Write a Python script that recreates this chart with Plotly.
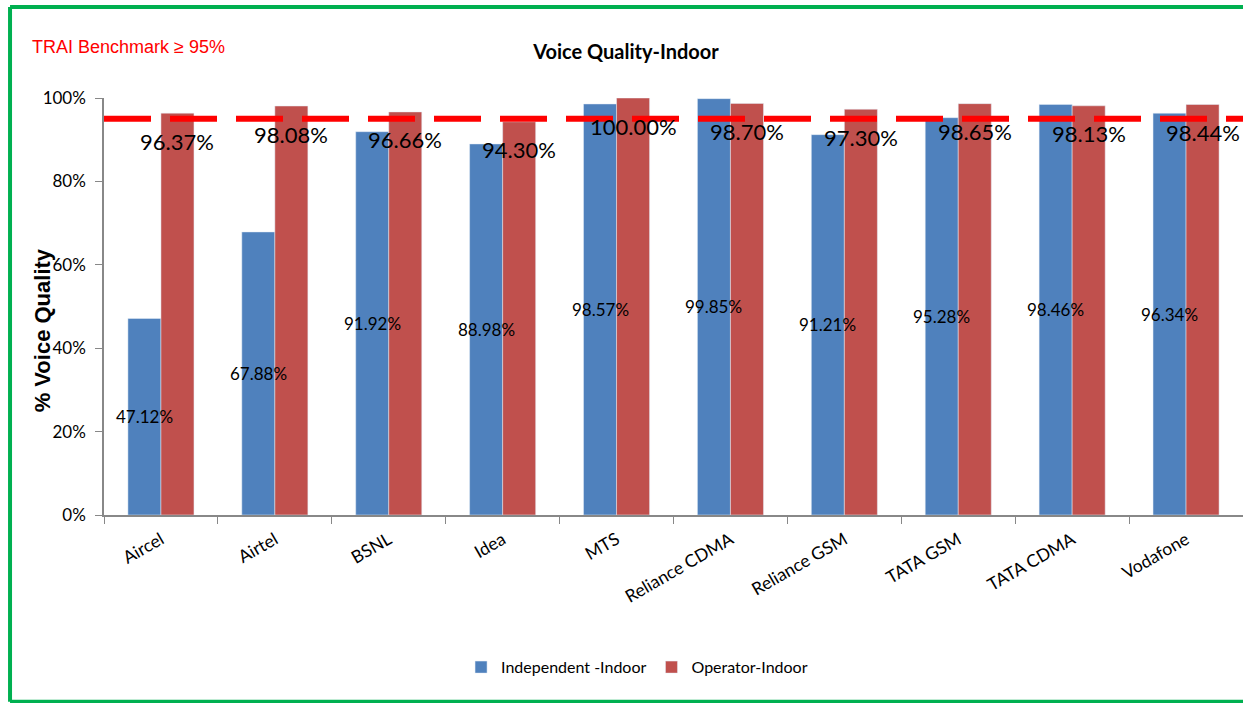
import plotly.graph_objects as go

# data
operators = ['Aircel', 'Airtel', 'BSNL', 'Idea', 'MTS', 'Reliance CDMA',
             'Reliance GSM', 'TATA GSM', 'TATA CDMA', 'Vodafone']
independent = [47.12, 67.88, 91.92, 88.98, 98.57, 99.85, 91.21, 95.28, 98.46, 96.34]
operator_vals = [96.37, 98.08, 96.66, 94.30, 100.00, 98.70, 97.30, 98.65, 98.13, 98.44]
benchmark = 95

BLUE = '#4F81BD'
RED = '#C0504D'
FONT = 'Lato'

fig = go.Figure()

fig.add_trace(go.Bar(
    x=operators, y=[v / 100 for v in independent], name='Independent -Indoor',
    marker=dict(color=BLUE),
))
fig.add_trace(go.Bar(
    x=operators, y=[v / 100 for v in operator_vals], name='Operator-Indoor',
    marker=dict(color=RED),
))

# independent labels: centred in the blue bars
for op, v in zip(operators, independent):
    fig.add_annotation(x=op, y=v / 200, text='%.2f%%' % v, showarrow=False,
                       xshift=-16.5, yanchor='middle',
                       font=dict(family=FONT, size=17, color='black'))

# operator labels: large text just below the top of each red bar
for op, v in zip(operators, operator_vals):
    fig.add_annotation(x=op, y=v / 100, text='%.2f%%' % v, showarrow=False,
                       xshift=16.5, yshift=-28, yanchor='middle',
                       font=dict(family=FONT, size=22, color='black'))

# benchmark line
fig.add_shape(type='line', xref='paper', yref='y', x0=0, x1=1,
              y0=benchmark / 100, y1=benchmark / 100,
              line=dict(color='#FF0000', width=6, dash='47px,19px'))

# green frame: left, top and bottom sides (right side runs off the picture)
frame = dict(color='#00B050', width=4)
fig.add_shape(type='line', xref='paper', yref='paper',
              x0=-0.0825, x1=-0.0825, y0=-0.448, y1=1.218, line=frame)
fig.add_shape(type='line', xref='paper', yref='paper',
              x0=-0.0825, x1=1.0, y0=1.218, y1=1.218, line=frame)
fig.add_shape(type='line', xref='paper', yref='paper',
              x0=-0.0825, x1=1.0, y0=-0.448, y1=-0.448, line=frame)

fig.add_annotation(xref='paper', yref='paper', x=-0.0649, y=1.122,
                   xanchor='left', yanchor='middle', showarrow=False,
                   text='TRAI Benchmark ≥ 95%',
                   font=dict(family='Liberation Sans', size=18, color='#FF0000'))
fig.add_annotation(xref='paper', yref='paper', x=-0.054, y=0.444,
                   xanchor='center', yanchor='middle',
                   textangle=-90, showarrow=False, text='<b>% Voice Quality</b>',
                   font=dict(family='Liberation Sans', size=22, color='black'))

fig.update_layout(
    width=1243, height=703,
    margin=dict(l=104, r=0, t=98, b=188),
    paper_bgcolor='white', plot_bgcolor='white',
    barmode='group', bargap=0.42, bargroupgap=0,
    title=dict(text='<b>Voice Quality-Indoor</b>', x=0.5036, y=0.926,
               xanchor='center', yanchor='middle',
               font=dict(family=FONT, size=20, color='black')),
    font=dict(family=FONT, size=16, color='black'),
    legend=dict(orientation='h', x=0.468, y=-0.365, xanchor='center',
                yanchor='middle', font=dict(family=FONT, size=16)),
    showlegend=True,
)
fig.update_xaxes(showline=True, linecolor='#888888', linewidth=1.5,
                 ticks='outside', ticklen=7, tickcolor='#888888',
                 tickson='boundaries', tickangle=-30, showgrid=False,
                 ticklabelstandoff=6,
                 tickfont=dict(family=FONT, size=17.5, color='black'))
fig.update_yaxes(range=[0, 1], dtick=0.2, tickformat='.0%',
                 showline=True, linecolor='#888888', linewidth=1.5,
                 ticks='outside', ticklen=7, tickcolor='#888888',
                 showgrid=False, zeroline=False, ticklabelstandoff=6,
                 tickfont=dict(family=FONT, size=17, color='black'))

fig.write_html('out.html', config={'displayModeBar': False},
               post_script="document.body.style.margin='0px';")
